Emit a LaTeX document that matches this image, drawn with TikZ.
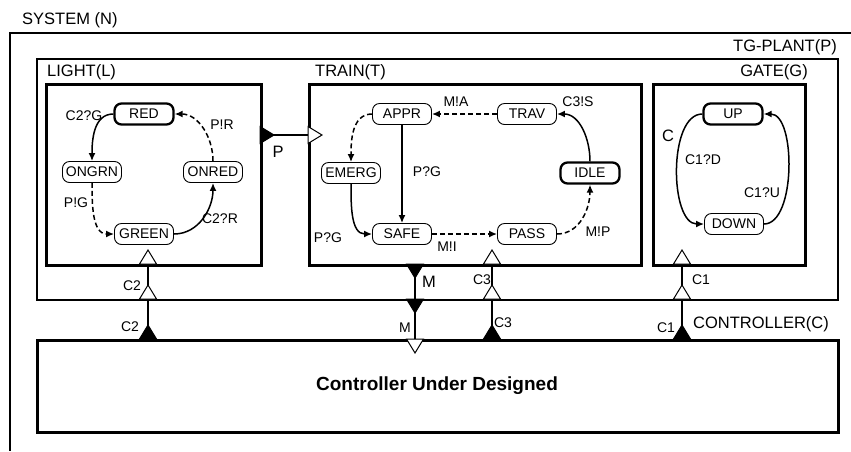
\documentclass[tikz,border=0pt]{standalone}
\usepackage{fontspec}
\setmainfont{Liberation Sans}
\usetikzlibrary{arrows.meta}
\tikzset{
  state/.style={draw=black,line width=0.9pt,rounded corners=7pt,minimum width=59pt,minimum height=21pt,inner sep=1pt,font=\fontsize{14}{14}\selectfont}, % location
  init/.style={state,line width=2.3pt},                        % initial location
  box/.style={draw=black,line width=2.6pt,anchor=north west,inner sep=0pt},
  frame/.style={draw=black,line width=1.6pt},
  tr/.style={-{Latex[length=8pt,width=7pt]},line width=1.5pt},  % controllable
  utr/.style={tr,dash pattern=on 5pt off 3pt},                 % uncontrollable
  lab/.style={font=\fontsize{14}{14}\selectfont,inner sep=0pt},
  big/.style={font=\fontsize{16.5}{16.5}\selectfont,inner sep=0pt},
  wire/.style={line width=1.1pt},
}
\newcommand{\port}[4]{% x, y, angle, fill
  \filldraw[fill=#4,line width=1pt,rotate around={#3:(#1,#2)}] (#1-8.5,#2) -- (#1+8.5,#2) -- (#1,#2-14) -- cycle;
}

\begin{document}
\begin{tikzpicture}[x=1pt,y=-1pt]
  \useasboundingbox (0,0) rectangle (851,451);
  % frames
  \draw[frame] (851,33) -- (10,33) -- (10,451);
  \node[anchor=west,big] (sysn) at (22,20) {SYSTEM (N)};
  \node[frame,anchor=north west,inner sep=0pt,minimum width=801pt,minimum height=241pt] (plant) at (36,58) {};
  \node[anchor=east,big] (plantn) at (837,47) {TG-PLANT(P)};
  \node[box,minimum width=215pt,minimum height=181pt] (light) at (45,83) {};
  \node[box,minimum width=332pt,minimum height=181pt] (train) at (308,83) {};
  \node[box,minimum width=152pt,minimum height=181pt] (gate) at (652,83) {};
  \node[box,minimum width=801pt,minimum height=92pt] (ctrl) at (36,339) {};
  \node[anchor=west,big] (lightn) at (47,72) {LIGHT(L)};
  \node[anchor=west,big] (trainn) at (315,72) {TRAIN(T)};
  \node[anchor=east,big] (gaten) at (808,72) {GATE(G)};
  \node[anchor=west,big] (ctrln) at (693,324) {CONTROLLER(C)};
  \node[font=\fontsize{19}{19}\selectfont\bfseries] (cud) at (437,386) {Controller Under Designed};

  % LIGHT
  \node[init] (red) at (144,114) {RED};
  \node[state] (ongrn) at (92,172) {ONGRN};
  \node[state] (onred) at (213,172) {ONRED};
  \node[state] (green) at (144,234) {GREEN};
  \draw[tr] (red.west) to[out=180,in=90] (ongrn.north);
  \draw[utr] (ongrn.south) to[out=270,in=180] (green.west);
  \draw[tr] (green.east) to[out=0,in=270] (onred.south);
  \draw[utr] (onred.north) to[out=90,in=0] (red.east);
  \node[lab] (c2g) at (84,116) {C2?G};
  \node[lab] (pr) at (222,125) {P!R};
  \node[lab] (pg) at (76,203) {P!G};
  \node[lab] (c2r) at (220,219) {C2?R};

  % TRAIN
  \node[state] (appr) at (402,114) {APPR};
  \node[state] (trav) at (527,114) {TRAV};
  \node[state] (emerg) at (351,173) {EMERG};
  \node[init] (idle) at (590,173) {IDLE};
  \node[state] (safe) at (402,234) {SAFE};
  \node[state] (pass) at (527,234) {PASS};
  \draw[utr] (trav) -- (appr);
  \draw[tr] (appr) -- (safe);
  \draw[utr] (appr.west) to[out=180,in=90] (emerg.north);
  \draw[tr] (emerg.south) to[out=270,in=180] (safe.west);
  \draw[utr] (safe) -- (pass);
  \draw[utr] (pass.east) to[out=0,in=270] (idle.south);
  \draw[tr] (idle.north) to[out=90,in=0] (trav.east);
  \node[lab] (ma) at (456,102) {M!A};
  \node[lab] (c3s) at (578,102) {C3!S};
  \node[lab] (pg1) at (427,172) {P?G};
  \node[lab] (pg2) at (328,238) {P?G};
  \node[lab] (mi) at (447,247) {M!I};
  \node[lab] (mp) at (598,232) {M!P};

  % GATE
  \node[init] (up) at (733,114) {UP};
  \node[state] (down) at (734,224) {DOWN};
  \draw[tr] (up.west) to[out=180,in=180,looseness=0.8] (down.west);
  \draw[tr] (down.east) to[out=0,in=0,looseness=0.75] (up.east);
  \node[big] (cg) at (668,136) {C};
  \node[lab] (c1d) at (703,160) {C1?D};
  \node[lab] (c1u) at (762,193) {C1?U};

  % channels
  \coordinate (pL) at (260,135); \coordinate (pT) at (308,135);
  \coordinate (c2L) at (148,264); \coordinate (c2C) at (148,339);
  \coordinate (mT) at (415,264); \coordinate (mC) at (415,339);
  \coordinate (c3T) at (492,264); \coordinate (c3C) at (492,339);
  \coordinate (c1G) at (682,264); \coordinate (c1C) at (682,339);
  \draw[wire] (pL) -- (pT);
  \draw[wire] (c2C) -- (c2L);
  \draw[wire] (mT) -- (mC);
  \draw[wire] (c3C) -- (c3T);
  \draw[wire] (c1C) -- (c1G);
  \port{260}{135}{-90}{black}
  \port{308}{135}{-90}{white}
  \foreach \x in {148,492,682} {
    \port{\x}{264}{0}{white}
    \port{\x}{299}{0}{white}
    \port{\x}{339}{0}{black}
  }
  \port{415}{264}{180}{black}
  \port{415}{299}{180}{black}
  \port{415}{339}{180}{white}
  \node[big] (pn) at (278,152) {P};
  \node[big] (mn1) at (429,282) {M};
  \node[lab] (mn2) at (405,328) {M};
  \node[lab] (c2n1) at (132,286) {C2};
  \node[lab] (c2n2) at (130,327) {C2};
  \node[lab] (c3n1) at (482,280) {C3};
  \node[lab] (c3n2) at (503,323) {C3};
  \node[lab] (c1n1) at (701,280) {C1};
  \node[lab] (c1n2) at (666,328) {C1};
\end{tikzpicture}
\end{document}
